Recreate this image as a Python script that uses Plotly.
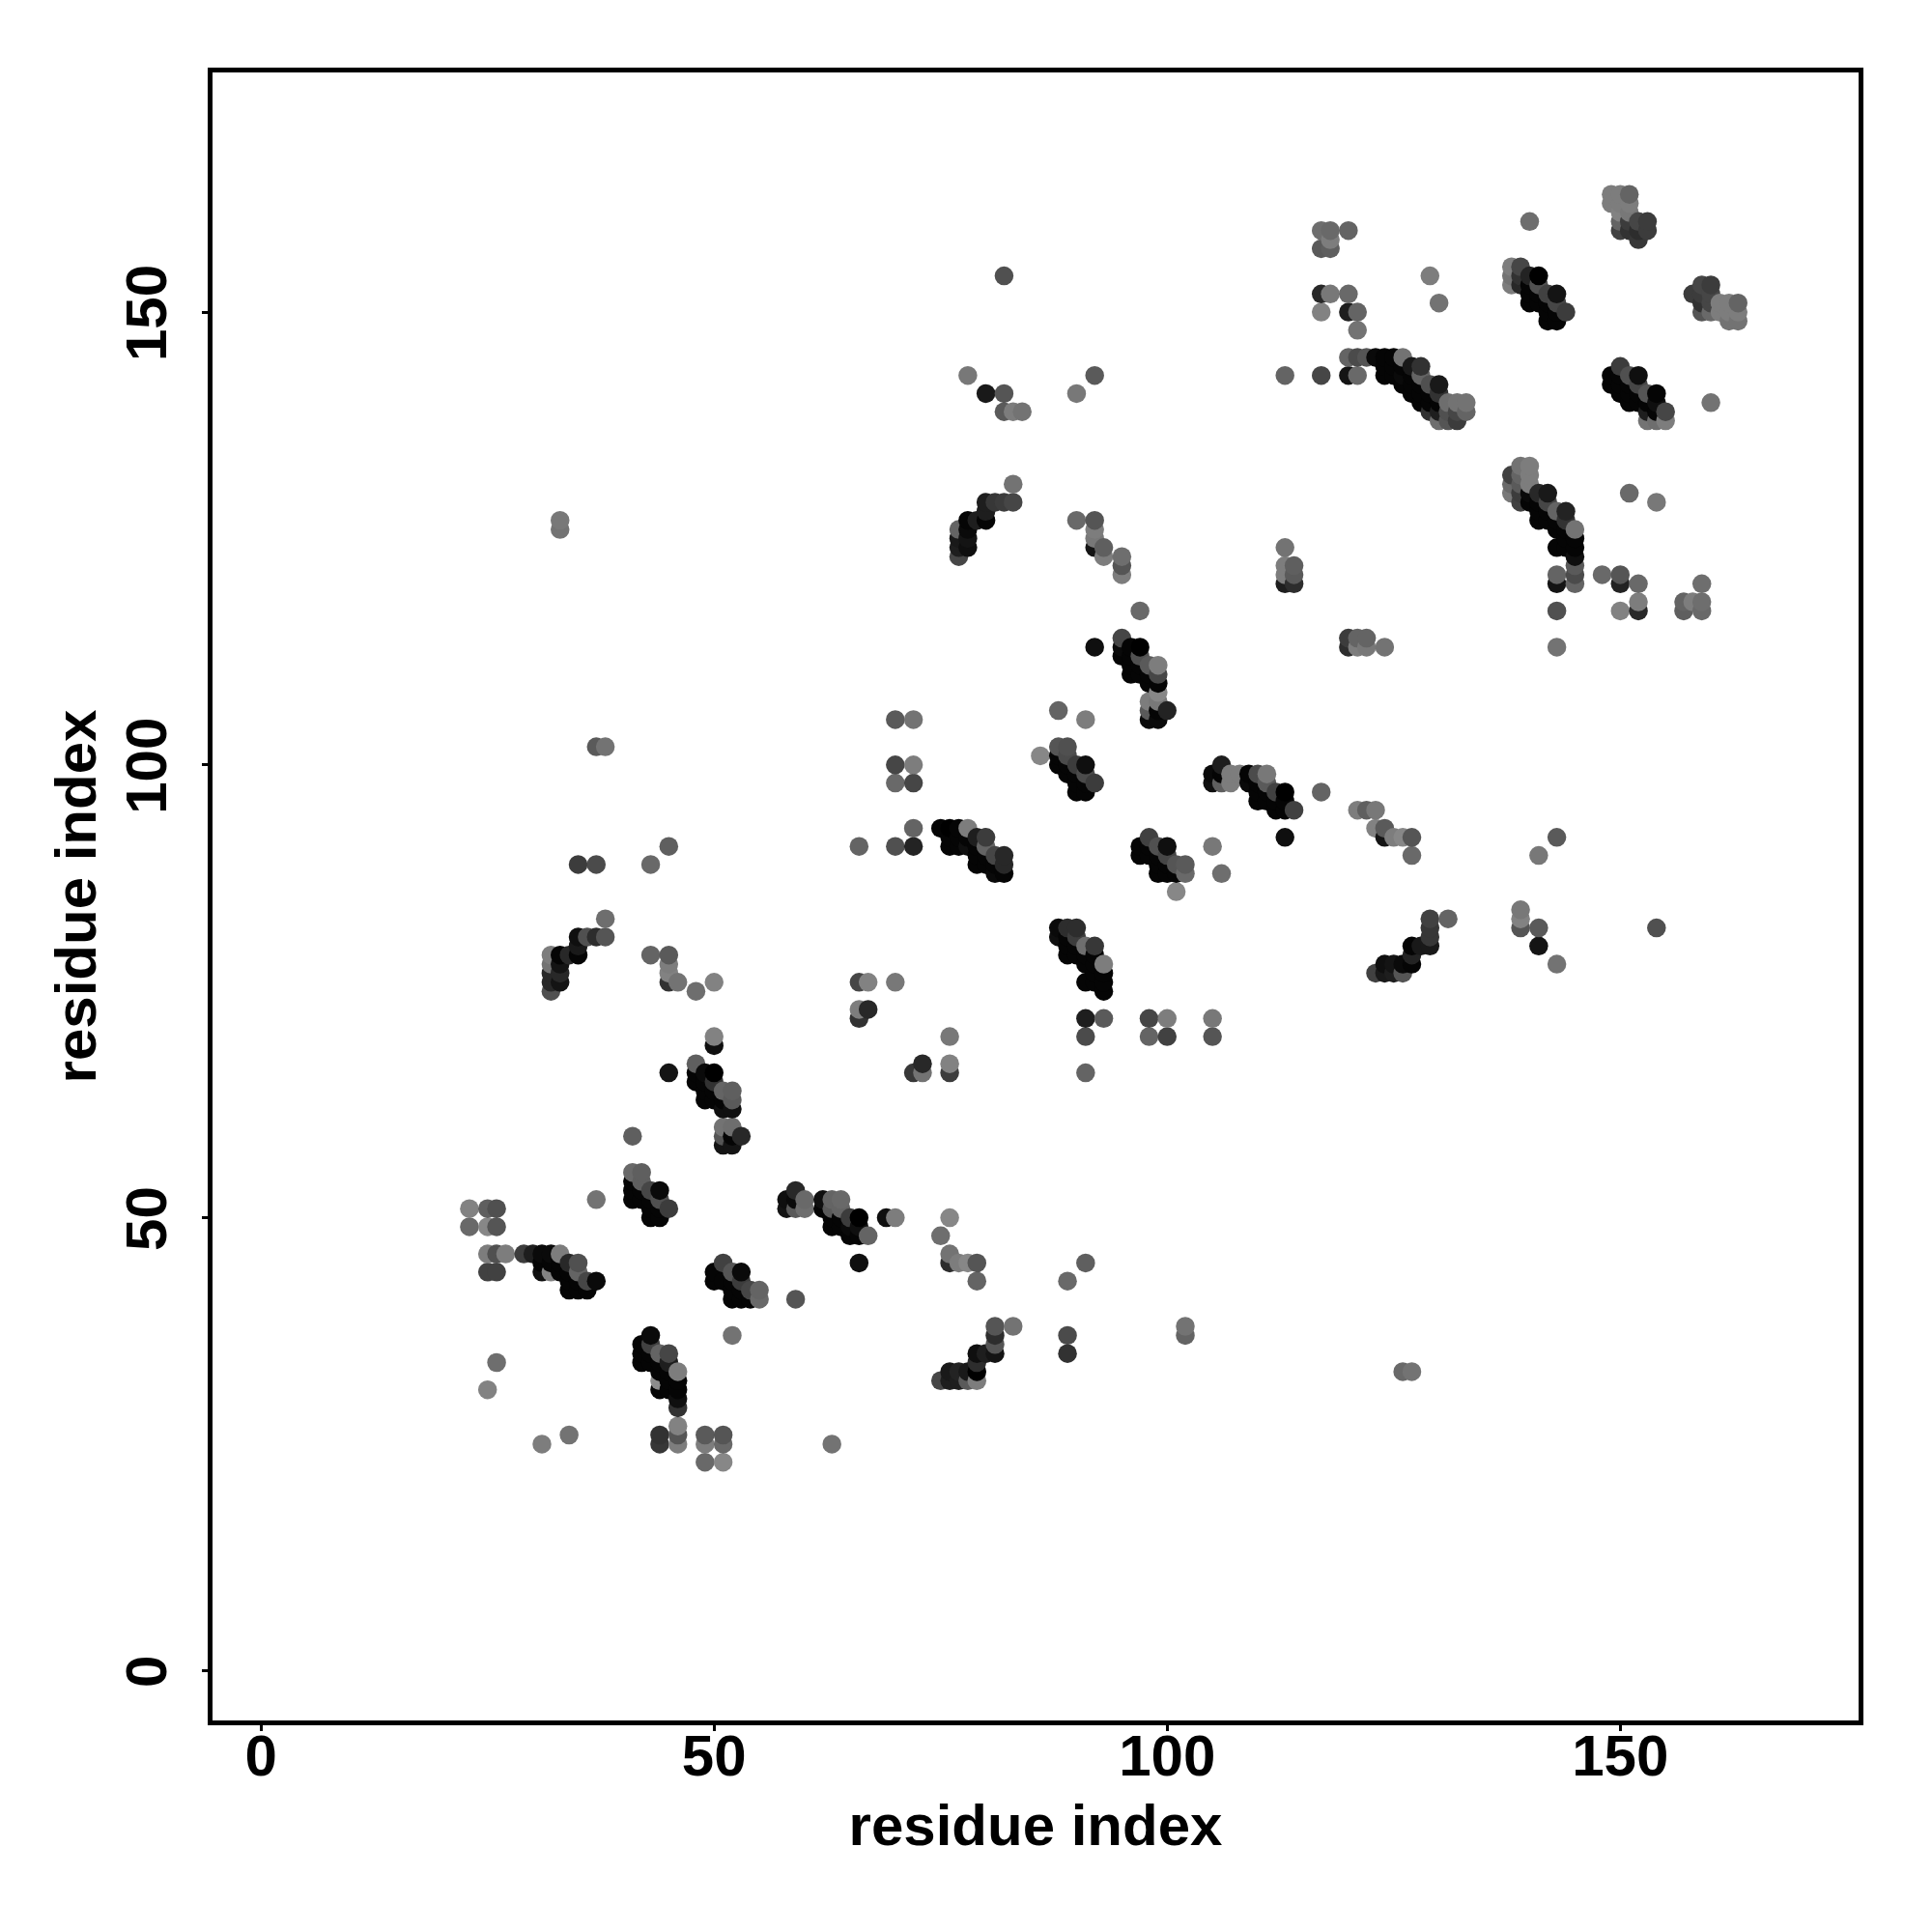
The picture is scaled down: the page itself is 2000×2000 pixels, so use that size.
import numpy as np
import plotly.graph_objects as go

residue_i = [
23,25,26,23,25,26,25,26,27,25,26,
29,30,31,32,33,31,32,33,34,35,31,32,33,34,35,34,35,36,37,34,35,36,37,26,25,34,31,63,
41,42,41,42,41,42,43,44,41,42,43,44,43,44,45,43,44,41,
59,58,59,60,58,59,60,62,63,64,62,63,64,63,64,65,66,63,64,65,66,65,66,67,69,70,
76,75,76,76,77,78,79,79,66,91,89,
81,83,81,81,81,80,79,79,79,78,77,76,75,76,77,78,79,89,89,102,102,126,127,
51,50,52,53,50,51,52,53,52,53,54,55,52,53,54,55,59,52,
43,42,43,42,43,44,45,42,43,44,45,44,45,46,44,45,46,44,45,46,46,46,46,46,44,44,46,49,51,49,51,49,51,
35,37,43,45,38,38,37,36,35,35,35,34,33,32,32,33,32,33,32,33,32,
43,45,45,45,45,46,48,50,50,50,
48,45,48,49,50,48,49,50,49,50,51,52,49,50,51,52,51,52,51,52,51,52,53,51,52,
66,70,72,72,66,67,70,66,67,66,72,73,73,76,76,76,
70,72,70,72,70,72,
75,76,77,78,76,77,78,79,80,76,77,78,79,80,79,80,81,82,79,80,81,82,81,82,
88,91,98,99,99,98,99,100,98,99,
86,88,89,88,89,88,89,90,91,89,90,91,90,91,92,90,91,
98,97,98,99,100,97,98,99,100,99,100,101,102,99,100,101,102,101,105,106,
88,89,90,88,89,90,89,90,91,92,89,90,91,92,91,92,93,92,93,91,92,93,93,
91,93,98,100,105,91,98,100,105,91,
90,92,92,92,92,93,93,95,95,95,97,
92,95,95,96,97,95,96,97,96,97,98,99,96,97,98,99,98,99,
113,113,114,113,114,113,114,
120,121,122,120,121,122,124,117,
106,105,106,107,108,105,106,107,109,110,111,109,110,111,110,111,112,113,110,111,112,113,112,113,114,113,
121,122,123,123,124,124,125,126,127,127,
129,131,129,129,129,128,127,127,127,126,125,124,123,124,125,126,
139,139,139,141,141,143,154,143,141,
139,140,138,139,140,140,138,138,139,139,139,141,142,140,140,141,142,141,142,143,144,141,142,143,144,143,144,145,144,145,143,144,145,145,145,145,143,143,145,
148,150,150,152,152,152,150,143,143,151,154,159,157,158,159,157,159,
117,118,120,118,117,118,140,117,118,120,117,120,121,121,129,130,
117,120,121,120,121,122,123,124,125,126,124,125,126,127,128,124,125,126,127,128,126,127,128,129,130,127,128,129,130,128,129,130,131,132,133,129,130,131,132,133,130,131,132,
138,139,138,139,140,141,138,139,140,141,142,143,140,141,140,141,142,143,144,142,143,142,143,
150,149,150,151,152,149,150,151,152,150,151,152,153,154,151,152,153,154,153,154,155,153,154,155,160,
149,150,151,149,150,151,150,151,150,151,152,153,150,151,152,153,152,
159,160,158,159,160,159,160,161,162,163,159,160,161,162,163,162,163,
82,78,80,82,82,83,84,92,90,113,
83,83,82,81,80,80,80,79,78,77,78,78,77,77,78,77,
33,33,37,38,
]

residue_j = [
51,51,51,49,49,49,46,46,46,44,44,
46,46,46,46,46,45,45,45,45,45,44,44,44,44,44,43,43,43,43,42,42,42,52,34,31,26,25,25,
55,55,54,54,53,53,53,53,52,52,52,52,51,51,51,50,50,59,
53,52,52,52,51,51,51,52,52,52,51,51,51,50,50,50,50,49,49,49,49,48,48,48,50,50,
50,48,46,45,45,45,45,43,45,45,43,
38,38,37,36,35,35,35,34,33,33,33,33,32,32,32,32,32,37,35,38,37,33,33,
45,44,44,44,43,43,43,43,42,42,42,42,41,41,41,41,41,37,
37,36,36,35,35,35,35,34,34,34,34,33,33,33,32,32,32,31,31,31,30,29,27,26,26,25,25,26,26,25,25,23,23,
89,89,89,91,83,81,81,81,81,80,79,79,79,79,78,78,77,77,76,76,75,
79,79,78,77,76,76,75,76,70,69,
67,66,66,66,66,65,65,65,64,64,64,64,63,63,63,63,62,62,60,60,59,59,59,58,58,
91,91,91,93,76,76,76,73,73,72,66,66,67,70,67,66,
105,105,100,100,98,98,
93,93,93,93,92,92,92,92,92,91,91,91,91,91,90,90,90,90,89,89,89,89,88,88,
106,105,107,107,108,106,106,106,105,105,
101,102,102,101,101,100,100,100,100,99,99,99,98,98,98,97,97,
92,91,91,91,91,90,90,90,90,89,89,89,89,88,88,88,88,86,91,88,
82,82,82,81,81,81,80,80,80,80,79,79,79,79,78,78,78,77,77,76,76,76,75,
72,72,72,72,72,70,70,70,70,66,
127,127,126,125,124,124,123,123,122,121,117,
113,114,113,113,113,112,112,112,111,111,111,111,110,110,110,110,109,109,
124,122,122,121,121,120,120,
114,114,114,113,113,113,113,97,
100,99,99,99,99,98,98,98,99,99,99,98,98,98,97,97,97,97,96,96,96,96,95,95,95,92,
95,95,95,93,93,92,92,92,92,90,
83,83,82,81,80,80,80,79,78,78,78,78,77,77,77,77,
84,83,82,82,80,78,82,92,90,
133,133,132,132,132,131,131,130,130,129,131,130,130,130,129,129,129,128,128,128,128,127,127,127,127,126,126,126,125,125,124,124,124,123,122,121,121,120,120,
121,121,120,120,118,117,117,117,113,130,129,120,118,118,118,117,117,
159,159,159,158,157,157,160,152,152,152,150,150,150,148,154,151,
143,143,143,145,145,145,145,145,145,145,144,144,144,144,144,143,143,143,143,143,142,142,142,142,142,141,141,141,141,140,140,140,140,140,140,139,139,139,139,139,138,138,138,
155,155,154,154,154,154,153,153,153,153,152,152,152,152,151,151,151,151,150,150,150,149,149,
144,143,143,143,143,142,142,142,142,141,141,141,141,141,140,140,140,140,139,139,139,138,138,138,140,
163,163,163,162,162,162,161,161,160,160,160,160,159,159,159,159,158,
153,153,152,152,152,151,151,151,151,151,150,150,150,150,150,149,149,
154,143,141,141,139,139,139,143,141,143,
131,129,129,129,129,128,127,127,127,126,126,125,125,124,124,123,
127,126,102,102,
]

grey_level = [
130,95,80,105,135,85,125,80,125,65,65,
60,30,10,10,125,5,5,5,40,80,15,130,5,5,100,5,5,70,10,5,5,5,115,110,130,115,125,115,
105,95,5,95,5,5,70,10,5,5,5,80,5,5,60,5,5,95,
40,15,10,105,20,90,110,15,100,105,5,90,100,5,5,60,0,5,5,10,15,5,5,100,15,125,
135,110,115,45,125,135,85,100,15,95,105,
85,115,45,85,20,30,15,45,0,25,35,25,70,30,30,90,125,75,50,115,100,105,115,
65,5,85,10,5,5,5,60,5,5,70,100,5,5,5,105,85,115,
10,5,65,5,5,100,70,5,5,5,30,5,5,125,140,5,5,5,5,5,15,50,130,85,50,55,125,90,85,125,105,105,135,
60,75,105,95,110,85,45,80,15,25,5,40,5,125,115,20,40,40,40,20,80,
100,90,125,130,50,115,110,130,130,15,
95,20,5,10,0,5,5,50,5,5,100,95,5,5,5,90,15,15,115,110,85,5,40,20,20,
100,80,35,100,70,130,120,125,40,50,55,115,40,120,130,60,
90,115,70,125,105,70,
5,0,5,125,5,5,5,30,60,5,5,15,5,100,5,5,70,40,5,5,5,40,10,5,
100,125,125,120,135,90,5,35,10,10,
135,85,80,5,75,5,5,60,15,5,5,75,5,5,60,5,5,
65,5,5,80,15,5,5,5,70,5,5,85,90,5,5,5,105,135,120,110,
10,45,45,15,5,60,5,5,110,55,5,5,5,5,5,5,125,5,5,5,5,5,5,
30,90,70,125,120,75,100,65,85,100,
105,85,125,120,20,95,125,110,85,125,105,
15,70,10,5,0,5,5,80,5,5,90,125,5,5,5,70,5,5,
115,125,95,125,90,30,45,
60,100,100,45,125,120,115,100,
30,10,5,125,125,15,95,125,5,75,120,10,5,90,5,5,65,0,5,5,5,5,5,5,65,15,
125,95,120,130,90,20,125,135,85,105,
65,100,55,55,25,25,5,35,5,10,20,15,65,25,30,85,
120,130,85,90,20,115,80,90,120,
115,125,65,100,125,125,105,120,60,65,90,40,25,10,5,5,70,5,5,100,35,5,5,5,50,5,5,115,5,5,5,5,5,15,90,75,100,20,100,
105,85,35,105,125,40,130,80,115,105,120,110,100,125,110,95,105,
110,105,100,125,90,95,110,40,120,105,130,30,100,115,125,115,
70,20,105,100,75,85,10,5,5,115,5,5,5,25,50,5,5,10,5,100,5,5,5,80,25,5,5,5,50,5,5,5,110,115,115,50,30,80,70,100,110,85,60,
125,70,115,50,35,0,125,40,5,80,65,20,5,5,5,5,5,70,60,5,5,5,5,
60,5,5,80,15,5,5,5,70,5,5,5,85,5,5,5,5,15,30,5,70,115,110,125,115,
125,125,100,125,125,125,130,120,100,60,70,60,65,50,45,60,55,
70,60,60,60,70,50,70,125,125,100,85,105,125,125,125,115,115,
80,120,25,85,90,125,115,90,120,100,
115,70,60,55,30,30,5,30,5,100,10,20,25,30,15,70,
120,115,90,115,
]

x_ticks = [0, 50, 100, 150]
y_ticks = [0, 50, 100, 150]
x_label = "residue index"
y_label = "residue index"

assert len(residue_i) == len(residue_j) == len(grey_level), (len(residue_i), len(residue_j), len(grey_level))

order = np.lexsort((residue_j, residue_i))
xs = np.array(residue_i)[order]
ys = np.array(residue_j)[order]
gs = np.array(grey_level)[order]
colours = [f"rgb({g},{g},{g})" for g in gs]

fig = go.Figure(go.Scatter(
    x=xs, y=ys, mode="markers",
    marker=dict(size=19.5, color=colours, line=dict(width=0)),
    hoverinfo="skip", cliponaxis=True,
))

font = "Liberation Sans"
axis_common = dict(
    showgrid=False, zeroline=False, showline=True, mirror=True,
    linecolor="black", linewidth=5,
    ticks="outside", ticklen=6, tickwidth=3, tickcolor="black",
    tickfont=dict(family=font, size=60, color="black", weight="bold"),
    tickmode="array",
)

L, R, T, B = 219.5, 1924.5, 74.5, 1781.5
fig.update_layout(
    width=2000, height=2000,
    margin=dict(l=L, r=2000 - R, t=T, b=2000 - B, autoexpand=False),
    paper_bgcolor="white", plot_bgcolor="white", showlegend=False,
    xaxis=dict(axis_common, range=[-5.35, 176.3], tickvals=x_ticks, ticktext=[str(t) for t in x_ticks],
               ticklabelstandoff=-26,
               title=dict(text=x_label, font=dict(family=font, size=60, color="black", weight="bold"), standoff=19)),
    yaxis=dict(axis_common, range=[-5.52, 176.46], tickvals=y_ticks, ticktext=[str(t) for t in y_ticks], tickangle=-90,
               ticklabelstandoff=13, ticklabelshift=10,
               title=dict(text=y_label, font=dict(family=font, size=60, color="black", weight="bold"), standoff=1)),
)

fig.write_html("out.html", post_script="document.body.style.margin='0';",
               config={"displayModeBar": False})
